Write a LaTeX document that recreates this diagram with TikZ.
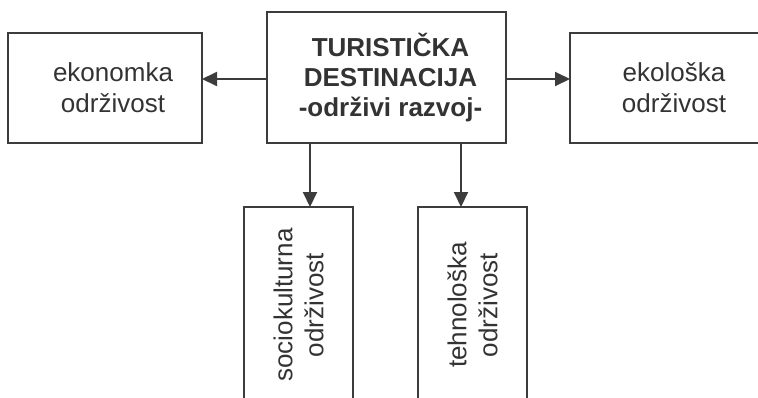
\documentclass[tikz,border=0pt]{standalone}
\usepackage{fontspec}
\setmainfont{Liberation Sans}
\usetikzlibrary{arrows.meta,calc}
\definecolor{ink}{HTML}{3C3C3C}
\definecolor{txt}{HTML}{333333}
\tikzset{
  box/.style={draw=ink, line width=2pt, inner sep=0pt},
  lbl/.style={text=txt, align=center, font=\fontsize{26}{31}\selectfont},
  clbl/.style={text=txt, align=center, font=\fontsize{26}{30}\selectfont\bfseries},
  arr/.style={draw=ink, line width=2pt, -{Triangle[length=15pt,width=14pt]}, shorten >=-1pt}
}
\begin{document}
\begin{tikzpicture}[x=1pt,y=-1pt]
\useasboundingbox (0,0) rectangle (758,397);
\clip (0,0) rectangle (758,397);
\fill[white] (0,0) rectangle (758,397);
% boxes
\node[box, minimum width=239pt, minimum height=131pt] (tur) at (386.5,77.5) {};
\node[clbl] (turt) at ([xshift=4pt]tur.center) {TURISTIČKA\\DESTINACIJA\\-održivi razvoj-};
\node[box, minimum width=194pt, minimum height=110pt] (eko) at (105,88) {};
\node[lbl] (ekot) at ([xshift=8pt]eko.center) {ekonomka\\održivost};
\node[box, minimum width=194pt, minimum height=110pt] (ekl) at (667,88) {};
\node[lbl] (eklt) at ([xshift=7pt]ekl.center) {ekološka\\održivost};
\node[box, minimum width=109pt, minimum height=196pt] (soc) at (298.5,305) {};
\node[lbl, rotate=90] (soct) at (soc.center) {sociokulturna\\održivost};
\node[box, minimum width=109pt, minimum height=196pt] (teh) at (472.5,305) {};
\node[lbl, rotate=90] (teht) at (teh.center) {tehnološka\\održivost};
% connectors
\draw[arr] ([yshift=-1.5pt]tur.west) -- ([yshift=-1.5pt]tur.west -| eko.east);
\draw[arr] ([yshift=-1.5pt]tur.east) -- ([yshift=-1.5pt]tur.east -| ekl.west);
\draw[arr] ([xshift=11.5pt]soc.north |- tur.south) -- ([xshift=11.5pt]soc.north);
\draw[arr] ([xshift=-11.5pt]teh.north |- tur.south) -- ([xshift=-11.5pt]teh.north);
\end{tikzpicture}
\end{document}
